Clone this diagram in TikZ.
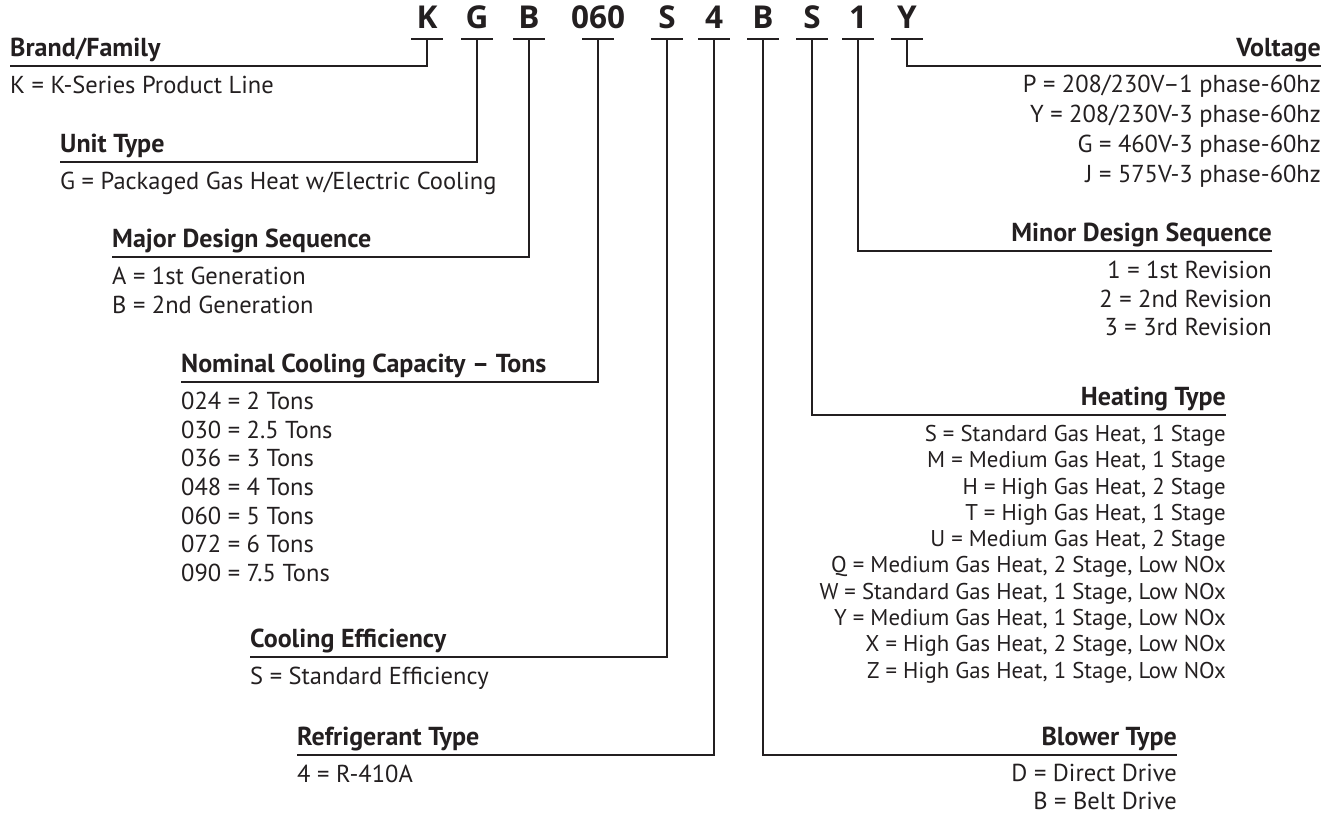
\documentclass[tikz,border=0pt]{standalone}
\usepackage{fontspec}
\setmainfont{PT Sans}
\newfontfamily\codefont{Open Sans}
\usepackage{tikz}
\usetikzlibrary{positioning}
\definecolor{ink}{RGB}{35,31,32}
\tikzset{
	leader/.style={draw=ink, line width=2.2pt},
	underbar/.style={draw=ink, line width=2.4pt}
}

\begin{document}
\begin{tikzpicture}[
		x=1pt, y=-1pt,
		code/.style={font=\codefont\fontsize{31.5}{31.5}\selectfont\bfseries, text=ink, anchor=base, text depth=0pt, inner xsep=0pt, inner ysep=11pt},
		head/.style={font=\fontsize{26}{28}\selectfont\bfseries, text=ink, text depth=0pt, inner xsep=0pt, inner ysep=9pt},
		leftlist/.style={font=\fontsize{24.5}{28.6}\selectfont, text=ink, align=left, inner sep=0pt},
		rightlist/.style={font=\fontsize{24.5}{28.6}\selectfont, text=ink, align=right, inner sep=0pt}
		]
		\useasboundingbox (0,0) rectangle (1339,814);
		
		% model number
		\node[code] (cK) at (427,28) {K};
		\node[code] (cG) at (477,28) {G};
		\node[code] (cB) at (529,28) {B};
		\node[code] (cTons) at (598,28) {060};
		\node[code] (cEff) at (667,28) {S};
		\node[code] (cRef) at (714,28) {4};
		\node[code] (cBlow) at (763,28) {B};
		\node[code] (cHeat) at (812,28) {S};
		\node[code] (cMinor) at (858,28) {1};
		\node[code] (cVolt) at (907,28) {Y};
		
		\draw[underbar] ([xshift=-16pt]cK.south) -- ([xshift=16pt]cK.south);
		\draw[underbar] ([xshift=-16pt]cG.south) -- ([xshift=16pt]cG.south);
		\draw[underbar] ([xshift=-16pt]cB.south) -- ([xshift=16pt]cB.south);
		\draw[underbar] ([xshift=-16pt]cTons.south) -- ([xshift=16pt]cTons.south);
		\draw[underbar] ([xshift=-16pt]cEff.south) -- ([xshift=16pt]cEff.south);
		\draw[underbar] ([xshift=-16pt]cRef.south) -- ([xshift=16pt]cRef.south);
		\draw[underbar] ([xshift=-16pt]cBlow.south) -- ([xshift=16pt]cBlow.south);
		\draw[underbar] ([xshift=-16pt]cHeat.south) -- ([xshift=16pt]cHeat.south);
		\draw[underbar] ([xshift=-16pt]cMinor.south) -- ([xshift=16pt]cMinor.south);
		\draw[underbar] ([xshift=-16pt]cVolt.south) -- ([xshift=16pt]cVolt.south);
		
		% left side
		\node[head, anchor=south west] (hBrand) at (10,66) {Brand/Family};
		\node[leftlist, below right=10pt and 0pt of hBrand.south west] (lBrand) {K = K-Series Product Line};
		
		\node[head, anchor=south west] (hUnit) at (60,162) {Unit Type};
		\node[leftlist, below right=10pt and 0pt of hUnit.south west] (lUnit) {G = Packaged Gas Heat w/Electric Cooling};
		
		\node[head, anchor=south west] (hMajor) at (112,257) {Major Design Sequence};
		\node[leftlist, below right=10pt and 0pt of hMajor.south west] (lMajor) {A = 1st Generation\\ B = 2nd Generation};
		
		\node[head, anchor=south west] (hTons) at (181,382) {Nominal Cooling Capacity -- Tons};
		\node[leftlist, below right=10pt and 0pt of hTons.south west] (lTons) {024 = 2 Tons\\ 030 = 2.5 Tons\\ 036 = 3 Tons\\ 048 = 4 Tons\\ 060 = 5 Tons\\ 072 = 6 Tons\\ 090 = 7.5 Tons};
		
		\node[head, anchor=south west] (hEff) at (250,657) {Cooling Efficiency};
		\node[leftlist, below right=10pt and 0pt of hEff.south west] (lEff) {S = Standard Efficiency};
		
		\node[head, anchor=south west] (hRef) at (297,755) {Refrigerant Type};
		\node[leftlist, below right=10pt and 0pt of hRef.south west] (lRef) {4 = R-410A};
		
		% right side
		\node[head, anchor=south east] (hVolt) at (1321,66) {Voltage};
		\node[rightlist, font=\fontsize{24.5}{30}\selectfont, below left=9pt and 0pt of hVolt.south east] (lVolt) {P = 208/230V--1 phase-60hz\\ Y = 208/230V-3 phase-60hz\\ G = 460V-3 phase-60hz\\ J = 575V-3 phase-60hz};
		
		\node[head, anchor=south east] (hMinor) at (1272,251) {Minor Design Sequence};
		\node[rightlist, below left=10pt and 0pt of hMinor.south east] (lMinor) {1 = 1st Revision\\ 2 = 2nd Revision\\ 3 = 3rd Revision};
		
		\node[head, anchor=south east] (hHeat) at (1226,415) {Heating Type};
		\node[rightlist, font=\fontsize{22.8}{26.3}\selectfont, below left=10pt and 0pt of hHeat.south east] (lHeat) {S = Standard Gas Heat, 1 Stage\\ M = Medium Gas Heat, 1 Stage\\ H = High Gas Heat, 2 Stage\\ T = High Gas Heat, 1 Stage\\ U = Medium Gas Heat, 2 Stage\\ Q = Medium Gas Heat, 2 Stage, Low NOx\\ W = Standard Gas Heat, 1 Stage, Low NOx\\ Y = Medium Gas Heat, 1 Stage, Low NOx\\ X = High Gas Heat, 2 Stage, Low NOx\\ Z = High Gas Heat, 1 Stage, Low NOx};
		
		\node[head, anchor=south east] (hBlow) at (1177,755) {Blower Type};
		\node[rightlist, font=\fontsize{24.5}{28}\selectfont, below left=9pt and 0pt of hBlow.south east] (lBlow) {D = Direct Drive\\ B = Belt Drive};
		
		% leaders
		\draw[leader] (cK.south) |- (hBrand.south west);
		\draw[leader] (cG.south) |- (hUnit.south west);
		\draw[leader] (cB.south) |- (hMajor.south west);
		\draw[leader] (cTons.south) |- (hTons.south west);
		\draw[leader] (cEff.south) |- (hEff.south west);
		\draw[leader] (cRef.south) |- (hRef.south west);
		\draw[leader] (cBlow.south) |- (hBlow.south east);
		\draw[leader] (cHeat.south) |- (hHeat.south east);
		\draw[leader] (cMinor.south) |- (hMinor.south east);
		\draw[leader] (cVolt.south) |- (hVolt.south east);
		
	\end{tikzpicture}
\end{document}
